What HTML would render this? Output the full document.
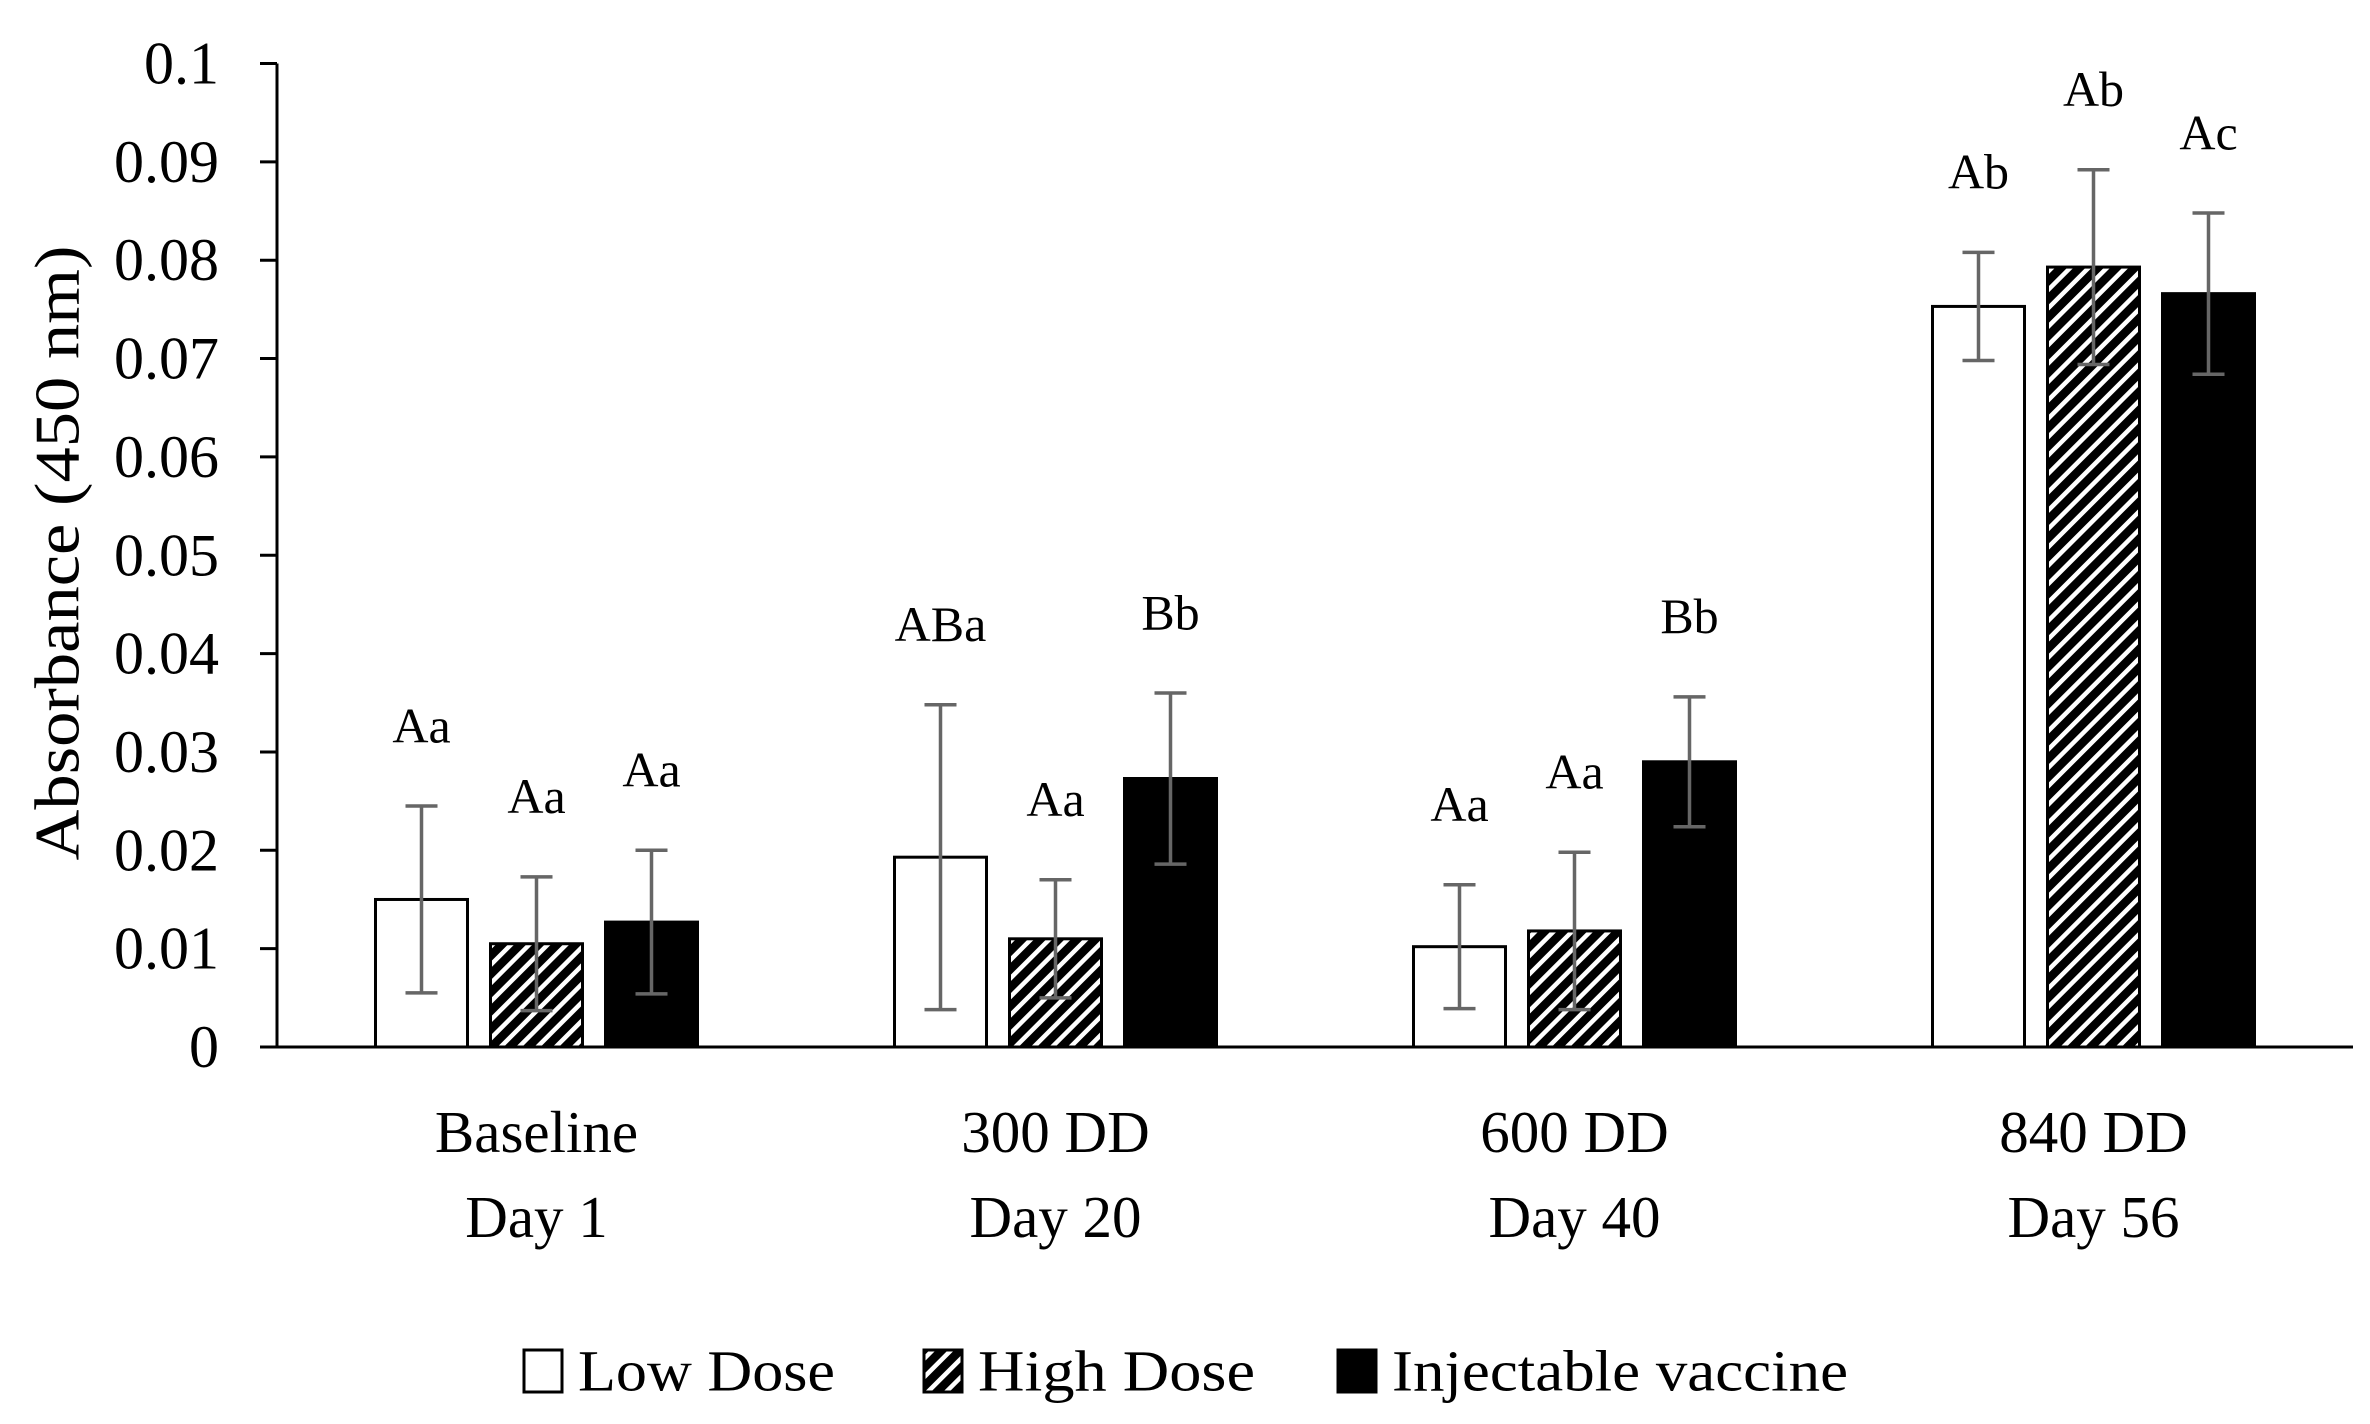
<!DOCTYPE html>
<html><head><meta charset="utf-8"><style>html,body{margin:0;padding:0;background:#fff}svg{display:block}text{font-family:"Liberation Serif",serif;fill:#000}</style></head>
<body>
<svg id="chart" width="2370" height="1424" viewBox="0 0 2370 1424" xmlns="http://www.w3.org/2000/svg">
<defs>
<pattern id="hatch" patternUnits="userSpaceOnUse" width="13" height="13" patternTransform="rotate(45)">
<rect width="13" height="13" fill="#000"/>
<rect x="0" y="0" width="4.5" height="13" fill="#fff"/>
</pattern>
</defs>
<g id="axes"></g>
<g id="bars"></g>
<g id="legend"></g>
</svg>
<script>
const categories1 = ["Baseline","300 DD","600 DD","840 DD"];
const categories2 = ["Day 1","Day 20","Day 40","Day 56"];
const seriesNames = ["Low Dose","High Dose","Injectable vaccine"];
const lowDose = [0.0150,0.0193,0.0102,0.0753];
const highDose = [0.0105,0.0110,0.0118,0.0793];
const injectable = [0.0127,0.0273,0.0290,0.0766];
const lowErr = [0.0095,0.0155,0.0063,0.0055];
const highErr = [0.0068,0.0060,0.0080,0.0099];
const injErr = [0.0073,0.0087,0.0066,0.0082];
const lowLabels = ["Aa","ABa","Aa","Ab"];
const highLabels = ["Aa","Aa","Aa","Ab"];
const injLabels = ["Aa","Bb","Bb","Ac"];
const yTicks = [0,0.01,0.02,0.03,0.04,0.05,0.06,0.07,0.08,0.09,0.1];
const yTickLabels = ["0","0.01","0.02","0.03","0.04","0.05","0.06","0.07","0.08","0.09","0.1"];

const NS="http://www.w3.org/2000/svg";
const X0=277, X1=2353, Y0=1047, YT=63.5, YMAX=0.1;
function yScale(v){return Y0-(v/YMAX)*(Y0-YT);}
const band=(X1-X0)/categories1.length;
function xCenter(i){return X0+band*(i+0.5);}
const pitch=115, bw=92;
function mk(tag,attrs,parent){const e=document.createElementNS(NS,tag);for(const k in attrs)e.setAttribute(k,attrs[k]);parent.appendChild(e);return e;}
const axes=document.getElementById('axes');
const bars=document.getElementById('bars');
const legend=document.getElementById('legend');

let yl=mk('line',{x1:X0,y1:YT,x2:X0,y2:Y0,stroke:'#000','stroke-width':3},axes);


let xl=mk('line',{x1:260,y1:Y0,x2:X1,y2:Y0,stroke:'#000','stroke-width':3},axes);


yTicks.forEach((t,i)=>{
  const y=yScale(t);
  const tk=mk('line',{x1:260,y1:y,x2:X0,y2:y,stroke:'#000','stroke-width':3},axes);
  
  
  const tx=mk('text',{x:219,y:y,'text-anchor':'end','dominant-baseline':'central','font-size':60,fill:'#333'},axes);
  tx.textContent=yTickLabels[i];
  
  
});
const yt=mk('text',{x:0,y:0,'text-anchor':'middle','dominant-baseline':'central','font-size':64,transform:'translate(57,553) rotate(-90)',textLength:615,lengthAdjust:'spacingAndGlyphs'},axes);
yt.textContent="Absorbance (450 nm)";



categories1.forEach((c,i)=>{
  const cx=xCenter(i);
  const t1=mk('text',{x:cx,y:1132,'text-anchor':'middle','dominant-baseline':'central','font-size':59},axes);
  t1.textContent=c;
  
  
  const t2=mk('text',{x:cx,y:1217,'text-anchor':'middle','dominant-baseline':'central','font-size':59},axes);
  t2.textContent=categories2[i];
  
  
});

const series=[
  {vals:lowDose,err:lowErr,labels:lowLabels,fill:'#fff',name:'low-dose'},
  {vals:highDose,err:highErr,labels:highLabels,fill:'url(#hatch)',name:'high-dose'},
  {vals:injectable,err:injErr,labels:injLabels,fill:'#000',name:'injectable-vaccine'}
];
series.forEach((s,si)=>{
  s.vals.forEach((v,i)=>{
    const cx=xCenter(i)+(si-1)*pitch;
    const y=yScale(v);
    const r=mk('rect',{x:cx-bw/2,y:y,width:bw,height:Y0-y,fill:s.fill,stroke:'#000','stroke-width':3},bars);
    
    
    const yu=yScale(v+s.err[i]), yd=yScale(v-s.err[i]);
    const g=mk('g',{stroke:'#666','stroke-width':3.5},bars);
    
    
    mk('line',{x1:cx,y1:yu,x2:cx,y2:yd},g);
    mk('line',{x1:cx-16,y1:yu,x2:cx+16,y2:yu},g);
    mk('line',{x1:cx-16,y1:yd,x2:cx+16,y2:yd},g);
    const lt=mk('text',{x:cx,y:yScale(v+s.err[i]+0.0082),'text-anchor':'middle','dominant-baseline':'central','font-size':50},bars);
    lt.textContent=s.labels[i];
    
    
  });
});

const legX=[522,922,1336];
const legW=[257,277,456];
series.forEach((s,si)=>{
  const g=mk('g',{},legend);
  
  
  mk('rect',{x:legX[si]+2,y:1350,width:38,height:42,fill:s.fill,stroke:'#000','stroke-width':3},g);
  const t=mk('text',{x:legX[si]+56,y:1371,'dominant-baseline':'central','font-size':58,textLength:legW[si],lengthAdjust:'spacingAndGlyphs'},g);
  t.textContent=seriesNames[si];
});
</script>
</body></html>
